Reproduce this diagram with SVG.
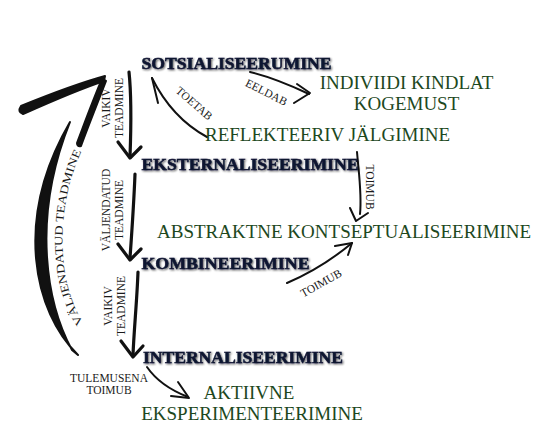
<svg xmlns="http://www.w3.org/2000/svg" width="543" height="440" viewBox="0 0 543 440">
<defs>
  <filter id="glow" x="-5%" y="-30%" width="110%" height="160%">
    <feGaussianBlur in="SourceAlpha" stdDeviation="0.9" result="b"/>
    <feOffset in="b" dx="0.5" dy="0.6" result="o"/>
    <feComponentTransfer in="o" result="s"><feFuncA type="linear" slope="0.7"/></feComponentTransfer>
    <feMerge><feMergeNode in="s"/><feMergeNode in="SourceGraphic"/></feMerge>
  </filter>
</defs>
<style>
  .title { font-family: "Liberation Serif", "Times New Roman", serif; font-weight: bold; font-size: 17.5px; fill: #0a1430; stroke: #0a1430; stroke-width: 0.5; filter: url(#glow); }
  .green { font-family: "Liberation Serif", "Times New Roman", serif; font-size: 19px; fill: #1d481d; }
  .lbl { font-family: "Liberation Serif", "Times New Roman", serif; font-size: 11.5px; fill: #1a1a1a; }
  .thin { fill: none; stroke: #111; stroke-width: 2; stroke-linecap: round; stroke-linejoin: round; }
  .mid { fill: none; stroke: #111; stroke-width: 3.2; stroke-linecap: round; stroke-linejoin: round; }
  .brush { fill: #111; stroke: #111; stroke-width: 2; stroke-linejoin: round; stroke-linecap: round; }
</style>
<rect width="543" height="440" fill="#ffffff"/>

<g id="connectors">
  <!-- big arrow -->
  <path class="brush" d="M78,355 C34,312 13,220 70,122 C30,222 48,306 72,350 Z"/>
  <path class="brush" d="M21,106 C48,95 76,84 105,76 L104,81 C77,90 50,102 23,114 Q17,112 21,106 Z"/>
  <path class="brush" d="M102,79 L106,81 C98,102 89,124 81,146 Q77,147 77,143 C85,122 93,100 102,79 Z"/>
  <path id="arcText" d="M86,326 C58,290 53,212 82,150" fill="none"/>
  <text class="lbl" font-size="12.5"><textPath href="#arcText" startOffset="4" textLength="178" lengthAdjust="spacingAndGlyphs">VÄLJENDATUD TEADMINE</textPath></text>

  <!-- vertical arrows -->
  <path class="mid" d="M129,72 C132,100 131,130 130,157"/>
  <path class="mid" d="M118,142 L130,158 L141,147"/>
  <path class="mid" d="M135,174 C134,200 132,230 130,258"/>
  <path class="mid" d="M118,244 L130,260 L141,249"/>
  <path class="mid" d="M138,272 C137,300 134,330 133,355"/>
  <path class="mid" d="M121,341 L133,357 L143,346"/>

  <text class="lbl" transform="translate(110,108) rotate(-90)" text-anchor="middle">VAIKIV</text>
  <text class="lbl" transform="translate(123,108) rotate(-90)" text-anchor="middle">TEADMINE</text>
  <text class="lbl" transform="translate(110,210) rotate(-90)" text-anchor="middle">VÄLJENDATUD</text>
  <text class="lbl" transform="translate(123,210) rotate(-90)" text-anchor="middle">TEADMINE</text>
  <text class="lbl" transform="translate(112,306) rotate(-90)" text-anchor="middle">VAIKIV</text>
  <text class="lbl" transform="translate(125,306) rotate(-90)" text-anchor="middle">TEADMINE</text>

  <!-- TOETAB -->
  <path class="thin" d="M152,78 Q172,118 207,137"/>
  <path class="thin" d="M152,78 L158,103"/>
  <text class="lbl" transform="translate(191,107) rotate(41)" text-anchor="middle" y="-1">TOETAB</text>

  <!-- EELDAB -->
  <path class="thin" d="M250,72 Q275,78 309,94"/>
  <path class="thin" d="M297,84 L310,93 L294,103"/>
  <text class="lbl" transform="translate(266,93) rotate(27)" text-anchor="middle" y="3">EELDAB</text>

  <!-- TOIMUB right -->
  <path class="thin" d="M357,152 C359,175 362,195 360,214"/>
  <path class="thin" d="M350,208 L356,221 L368,213"/>
  <text class="lbl" transform="translate(366,187) rotate(90)" text-anchor="middle">TOIMUB</text>

  <!-- TOIMUB lower -->
  <path class="thin" d="M287,283 Q322,268 352,243"/>
  <path class="thin" d="M335,246 L352,243 L348,255"/>
  <text class="lbl" transform="translate(321,283) rotate(-29)" text-anchor="middle" y="4">TOIMUB</text>

  <!-- TULEMUSENA -->
  <path class="thin" d="M147,367 Q160,386 188,397"/>
  <path class="thin" d="M178,382 L189,398 L171,396"/>
  <text class="lbl" text-anchor="middle"><tspan x="109" y="382">TULEMUSENA</tspan><tspan x="109" y="394">TOIMUB</tspan></text>
</g>

<g id="n-sotsialiseerumine"><text class="title" x="141.5" y="68.5" textLength="190" lengthAdjust="spacingAndGlyphs">SOTSIALISEERUMINE</text></g>
<g id="n-eksternaliseerimine"><text class="title" x="141.5" y="170" textLength="217" lengthAdjust="spacingAndGlyphs">EKSTERNALISEERIMINE</text></g>
<g id="n-kombineerimine"><text class="title" x="141.5" y="268.5" textLength="168" lengthAdjust="spacingAndGlyphs">KOMBINEERIMINE</text></g>
<g id="n-internaliseerimine"><text class="title" x="143" y="363" textLength="200" lengthAdjust="spacingAndGlyphs">INTERNALISEERIMINE</text></g>

<g id="n-indiviidi"><text class="green" x="406.5" y="88.5" text-anchor="middle">INDIVIIDI KINDLAT</text><text class="green" x="406.5" y="109.5" text-anchor="middle">KOGEMUST</text></g>
<g id="n-reflekteeriv"><text class="green" x="205" y="141">REFLEKTEERIV JÄLGIMINE</text></g>
<g id="n-abstraktne"><text class="green" x="157" y="238">ABSTRAKTNE KONTSEPTUALISEERIMINE</text></g>
<g id="n-aktiivne"><text class="green" x="249" y="398.5" text-anchor="middle">AKTIIVNE</text><text class="green" x="252" y="419.5" text-anchor="middle">EKSPERIMENTEERIMINE</text></g>
</svg>
